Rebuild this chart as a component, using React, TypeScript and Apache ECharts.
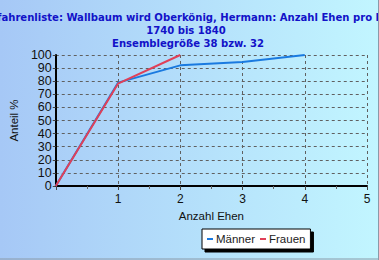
import React, { useEffect, useRef } from "react";
import * as echarts from "echarts";

const titleLines = [
  "Vorfahrenliste: Wallbaum wird Oberkönig, Hermann: Anzahl Ehen pro Person",
  "1740 bis 1840",
  "Ensemblegröße 38 bzw. 32",
];
const maenner: [number, number][] = [
  [0, 0],
  [1, 78.9],
  [2, 92.1],
  [3, 94.7],
  [4, 100],
];
const frauen: [number, number][] = [
  [0, 0],
  [1, 78.1],
  [2, 100],
];
const xName = "Anzahl Ehen";
const yName = "Anteil %";

const titleFont = "bold 11.2px 'DejaVu Sans Condensed', 'DejaVu Sans'";

export default function App() {
  const ref = useRef<HTMLDivElement>(null);
  useEffect(() => {
    document.body.style.margin = "0";
    const chart = echarts.init(ref.current!, undefined, { renderer: "svg" });
    chart.setOption({
      animation: false,
      backgroundColor: new echarts.graphic.LinearGradient(0, 0, 1, 0, [
        { offset: 0, color: "#a6c8f6" },
        { offset: 1, color: "#c2f6ff" },
      ]),
      grid: { left: 52, right: 12, top: 55, bottom: 74 },
      xAxis: {
        type: "value",
        min: 0,
        max: 5,
        interval: 1,
        name: xName,
        nameLocation: "middle",
        nameGap: 22,
        nameTextStyle: { fontFamily: "Liberation Sans, Arial", fontSize: 11.5, color: "#111" },
        axisLine: { lineStyle: { color: "#000", width: 2 } },
        axisTick: { show: true, length: 4, lineStyle: { color: "#444" } },
        minorTick: { show: true, splitNumber: 2, length: 3, lineStyle: { color: "#666" } },
        axisLabel: {
          margin: 7,
          fontFamily: "Liberation Sans, Arial",
          fontSize: 12,
          color: "#111",
          formatter: (v: number) => (v === 0 ? "" : String(v)),
        },
        splitLine: { show: true, lineStyle: { color: "#606060", type: [3, 3], width: 1 } },
      },
      yAxis: {
        type: "value",
        min: 0,
        max: 100,
        interval: 10,
        name: yName,
        nameLocation: "middle",
        nameGap: 27,
        nameTextStyle: { fontFamily: "Liberation Sans, Arial", fontSize: 11.5, color: "#111" },
        axisLine: { show: true, lineStyle: { color: "#000", width: 2 } },
        axisTick: { show: true, length: 3, lineStyle: { color: "#444" } },
        axisLabel: {
          margin: 4,
          fontFamily: "Liberation Sans, Arial",
          fontSize: 12.5,
          color: "#111",
        },
        splitLine: { show: true, lineStyle: { color: "#606060", type: [3, 3], width: 1 } },
      },
      legend: {
        left: 202,
        top: 229,
        itemGap: 5,
        padding: [4, 5, 4, 5],
        backgroundColor: "#fff",
        borderColor: "#000",
        borderWidth: 1,
        borderRadius: 0,
        shadowColor: "#000",
        shadowBlur: 0,
        shadowOffsetX: 3,
        shadowOffsetY: 3,
        itemWidth: 6,
        itemHeight: 2,
        icon: "rect",
        textStyle: { fontFamily: "Liberation Sans, Arial", fontSize: 11.5, color: "#222", padding: [0, 0, 0, -2] },
        data: ["Männer", "Frauen"],
      },
      series: [
        {
          name: "Männer",
          type: "line",
          data: maenner,
          showSymbol: false,
          symbol: "none",
          lineStyle: { color: "#1a7ae0", width: 2 },
          itemStyle: { color: "#1a7ae0" },
        },
        {
          name: "Frauen",
          type: "line",
          data: frauen,
          showSymbol: false,
          symbol: "none",
          lineStyle: { color: "#e04058", width: 2 },
          itemStyle: { color: "#e04058" },
        },
      ],
      graphic: [
        {
          type: "text",
          x: -22,
          y: 17,
          style: { text: titleLines[0], font: titleFont, fill: "#1212c8", textAlign: "left", textVerticalAlign: "middle" },
        },
        {
          type: "text",
          x: 186,
          y: 30,
          style: { text: titleLines[1], font: titleFont, fill: "#1212c8", textAlign: "center", textVerticalAlign: "middle" },
        },
        {
          type: "text",
          x: 188,
          y: 43,
          style: { text: titleLines[2], font: titleFont, fill: "#1212c8", textAlign: "center", textVerticalAlign: "middle" },
        },
        { type: "line", shape: { x1: 0, y1: 259, x2: 379, y2: 259 }, style: { stroke: "#8a9aa8", lineWidth: 1 } },
        { type: "line", shape: { x1: 378.5, y1: 0, x2: 378.5, y2: 260 }, style: { stroke: "#8a9aa8", lineWidth: 1 } },
      ],
    });
    return () => chart.dispose();
  }, []);
  return <div ref={ref} style={{ width: 379, height: 260 }} />;
}
